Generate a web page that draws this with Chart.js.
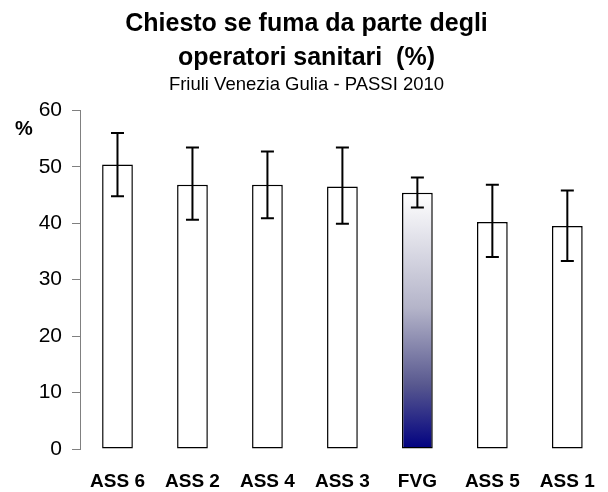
<!DOCTYPE html>
<html lang="it">
<head>
  <meta charset="UTF-8">
  <title>Chiesto se fuma da parte degli operatori sanitari</title>
  <style>
    html, body { margin:0; padding:0; background:#fff; }
    #wrap { width:608px; height:492px; position:relative; }
  </style>
</head>
<body>
  <div id="wrap"><canvas id="chart"></canvas></div>

  <script src="https://cdn.jsdelivr.net/npm/chart.js"></script>
  <script>
    // dati
    const labels = ['ASS 6', 'ASS 2', 'ASS 4', 'ASS 3', 'FVG', 'ASS 5', 'ASS 1'];
    const values = [50.4, 46.8, 46.8, 46.5, 45.4, 40.2, 39.5];
    const lower  = [44.8, 40.6, 40.9, 39.9, 42.8, 34.0, 33.3];
    const upper  = [56.0, 53.4, 52.7, 53.4, 48.1, 46.8, 45.8];
    const yTicks = [0, 10, 20, 30, 40, 50, 60];
    const highlight = 'FVG';

    const FONT = "'Liberation Sans', Arial, sans-serif";

    function barFill(ctx) {
      if (labels[ctx.dataIndex] !== highlight) return '#ffffff';
      const chart = ctx.chart;
      const y = chart.scales.y;
      if (!chart.chartArea || !y) return '#000080';
      const top = y.getPixelForValue(values[ctx.dataIndex]);
      const base = y.getPixelForValue(0);
      const g = chart.ctx.createLinearGradient(0, top, 0, base);
      g.addColorStop(0, '#ffffff');
      g.addColorStop(0.45, '#b4b4c9');
      g.addColorStop(0.75, '#58588f');
      g.addColorStop(1, '#000080');
      return g;
    }

    // barre d'errore e simbolo %
    const extras = {
      id: 'extras',
      afterDatasetsDraw(chart) {
        const { ctx, scales: { x, y } } = chart;
        ctx.save();
        ctx.strokeStyle = '#000';
        ctx.lineWidth = 2;
        labels.forEach((l, i) => {
          const cx = x.getPixelForValue(i);
          const yl = y.getPixelForValue(lower[i]);
          const yh = y.getPixelForValue(upper[i]);
          ctx.beginPath();
          ctx.moveTo(cx, yl); ctx.lineTo(cx, yh);
          ctx.moveTo(cx - 6.5, yh); ctx.lineTo(cx + 6.5, yh);
          ctx.moveTo(cx - 6.5, yl); ctx.lineTo(cx + 6.5, yl);
          ctx.stroke();
        });
        ctx.fillStyle = '#000';
        ctx.font = 'bold 20px ' + FONT;
        ctx.textAlign = 'center';
        ctx.textBaseline = 'middle';
        ctx.fillText('%', 24, 129);
        ctx.restore();
      }
    };

    new Chart(document.getElementById('chart').getContext('2d'), {
      type: 'bar',
      data: {
        labels,
        datasets: [{
          data: values,
          backgroundColor: barFill,
          borderColor: '#000',
          borderWidth: 1.5,
          borderSkipped: false,
          barPercentage: 0.41,
          categoryPercentage: 1
        }]
      },
      options: {
        responsive: true,
        maintainAspectRatio: false,
        animation: false,
        layout: { padding: { top: 0, right: 3, bottom: 0, left: 8 } },
        plugins: {
          legend: { display: false },
          tooltip: { enabled: false },
          title: {
            display: true,
            text: ['Chiesto se fuma da parte degli', 'operatori sanitari  (%)'],
            color: '#000',
            font: { family: FONT, size: 25, weight: 'bold', lineHeight: 1.36 },
            padding: { top: 7, bottom: 0 }
          },
          subtitle: {
            display: true,
            text: 'Friuli Venezia Gulia - PASSI 2010',
            color: '#000',
            font: { family: FONT, size: 18.5, lineHeight: 1.1 },
            padding: { top: 0, bottom: 15 }
          }
        },
        scales: {
          x: {
            grid: { display: false },
            border: { display: false },
            ticks: {
              color: '#000',
              font: { family: FONT, size: 19, weight: 'bold' },
              padding: 13,
              maxRotation: 0,
              autoSkip: false
            },
            afterFit: s => { s.height = 43; }
          },
          y: {
            min: 0,
            max: 60,
            afterBuildTicks: s => { s.ticks = yTicks.map(v => ({ value: v })); },
            grid: { drawOnChartArea: false, drawTicks: true, tickLength: 8, color: '#808080', lineWidth: 1 },
            border: { display: true, color: '#808080', width: 1 },
            ticks: {
              color: '#000',
              font: { family: FONT, size: 21 },
              padding: 10
            },
            afterFit: s => { s.width = 72; }
          }
        }
      },
      plugins: [extras]
    });
  </script>
</body>
</html>
